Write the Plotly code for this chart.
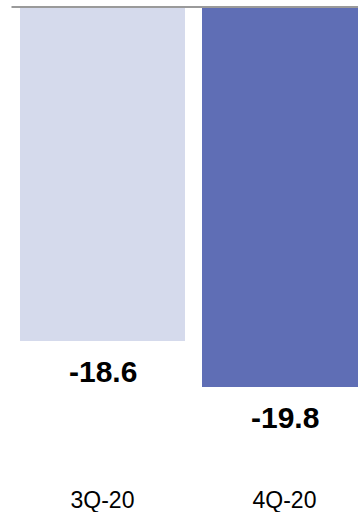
import plotly.graph_objects as go

categories = ["3Q-20", "4Q-20"]
values = [-18.6, -19.8]
labels = ["-18.6", "-19.8"]
colors = ["#D5DAEC", "#5F6EB5"]

W, H = 358, 512
T, B = 8, 28
px_per_cat = 182.0
left_off = 11.5
y_top, y_bottom = -9.91, -22.33

fig = go.Figure()
fig.add_trace(go.Bar(
    x=categories, y=values, marker=dict(color=colors, line=dict(width=0)),
    width=165 / px_per_cat, hoverinfo="skip",
))

for c, v, t in zip(categories, values, labels):
    fig.add_annotation(x=c, y=v, text="<b>" + t + "</b>", showarrow=False,
                       yanchor="middle", yshift=-30,
                       font=dict(family="Arial, Liberation Sans", size=30, color="#000000"))

x0 = -0.5 - left_off / px_per_cat
fig.update_xaxes(type="category", range=[x0, x0 + W / px_per_cat], showgrid=False,
                 showline=False, ticks="", zeroline=False,
                 tickfont=dict(family="Arial, Liberation Sans", size=23, color="#000000"))
fig.update_yaxes(range=[y_bottom, y_top], visible=False, showgrid=False, zeroline=False)

fig.add_shape(type="line", xref="paper", yref="paper", x0=left_off / W, x1=1,
              y0=1, y1=1, ysizemode="pixel", yanchor=1,
              line=dict(color="#9A9A9A", width=2))

fig.update_layout(width=W, height=H, margin=dict(l=0, r=0, t=T, b=B),
                  plot_bgcolor="white", paper_bgcolor="white", showlegend=False,
                  bargap=0)
fig.write_html("out.html")
